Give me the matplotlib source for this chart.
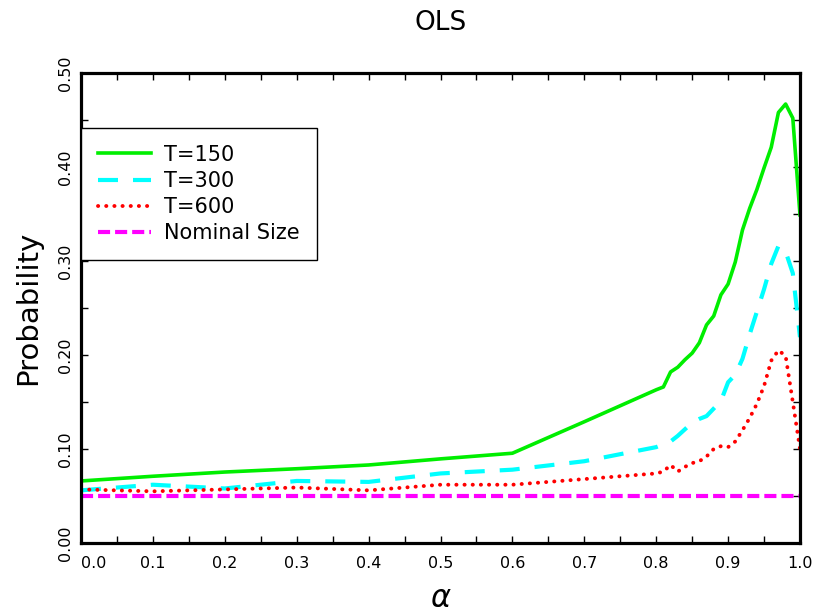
import matplotlib
matplotlib.use("Agg")
import matplotlib.pyplot as plt
from matplotlib.ticker import MultipleLocator

alpha = [0.0, 0.1, 0.2, 0.3, 0.4, 0.5, 0.6, 0.7, 0.8,
         0.81, 0.82, 0.83, 0.84, 0.85, 0.86, 0.87, 0.88, 0.89, 0.90,
         0.91, 0.92, 0.93, 0.94, 0.95, 0.96, 0.97, 0.98, 0.99, 1.0]
t150 = [0.066, 0.071, 0.0755, 0.079, 0.083, 0.0895, 0.0955, 0.129, 0.163,
        0.166, 0.182, 0.187, 0.195, 0.202, 0.213, 0.232, 0.2415, 0.264, 0.2755,
        0.299, 0.333, 0.356, 0.376, 0.399, 0.421, 0.458, 0.467, 0.452, 0.349]
t300 = [0.056, 0.062, 0.058, 0.066, 0.065, 0.074, 0.078, 0.087, 0.102,
        0.105, 0.108, 0.114, 0.121, 0.128, 0.132, 0.135, 0.143, 0.151, 0.171,
        0.179, 0.196, 0.222, 0.246, 0.270, 0.297, 0.316, 0.310, 0.287, 0.219]
t600 = [0.057, 0.055, 0.057, 0.059, 0.056, 0.062, 0.062, 0.068, 0.074,
        0.076, 0.083, 0.076, 0.081, 0.085, 0.087, 0.092, 0.100, 0.103, 0.102,
        0.108, 0.120, 0.133, 0.148, 0.167, 0.194, 0.205, 0.199, 0.150, 0.100]
nominal = 0.05

fig = plt.figure(figsize=(8.18, 6.16), dpi=100)
ax = fig.add_axes([81 / 818, 73 / 616, 719 / 818, 470 / 616])

ax.plot(alpha, t150, color="#00ee00", label="T=150", linewidth=2.6)
ax.plot(alpha, t300, color="#00ffff", label="T=300", linewidth=3,
        linestyle=(0, (4.8, 3.6)))
ax.plot(alpha, t600, color="#ff0000", label="T=600", linewidth=2.8,
        linestyle=(0, (0.05, 2.05)), dash_capstyle="round")
ax.plot([alpha[0], alpha[-1]], [nominal, nominal], color="#ff00ff",
        label="Nominal Size", linewidth=3, linestyle=(0, (2.9, 1.2)))

ax.set_xlim(0, 1)
ax.set_ylim(0, 0.5)

# ticks inward on every side, labels every 0.1
ax.xaxis.set_minor_locator(MultipleLocator(0.05))
ax.yaxis.set_minor_locator(MultipleLocator(0.05))
ax.tick_params(which="both", direction="in", top=True, right=True,
               length=5, width=1, labelsize=11.5)
ax.tick_params(axis="x", pad=9)
ax.tick_params(axis="y", pad=6)
ax.set_xticks([i / 10 for i in range(11)])
ax.set_xticklabels(["%.1f" % (i / 10) for i in range(11)])
ax.set_yticks([i / 10 for i in range(6)])
ax.set_yticklabels(["%.2f" % (i / 10) for i in range(6)], rotation=90,
                   va="center")
ax.get_xticklabels()[0].set_ha("left")

for s in ax.spines.values():
    s.set_linewidth(2.3)

ax.set_title("OLS", fontsize=19, pad=31)
ax.set_xlabel(r"$\alpha$", fontsize=22, va="center")
ax.xaxis.set_label_coords(0.5, -0.119)
ax.set_ylabel("Probability", fontsize=21, va="center")
ax.yaxis.set_label_coords(-0.074, 0.5)

leg = ax.legend(loc="upper left", bbox_to_anchor=(0, 0.883), borderaxespad=0,
                fontsize=15, handlelength=2.55, handletextpad=0.65,
                borderpad=0.8, labelspacing=0.3, fancybox=False)
leg.get_frame().set_edgecolor("black")
leg.get_frame().set_linewidth(1)
leg.get_frame().set_alpha(1)

plt.savefig("out.png", dpi=100)
